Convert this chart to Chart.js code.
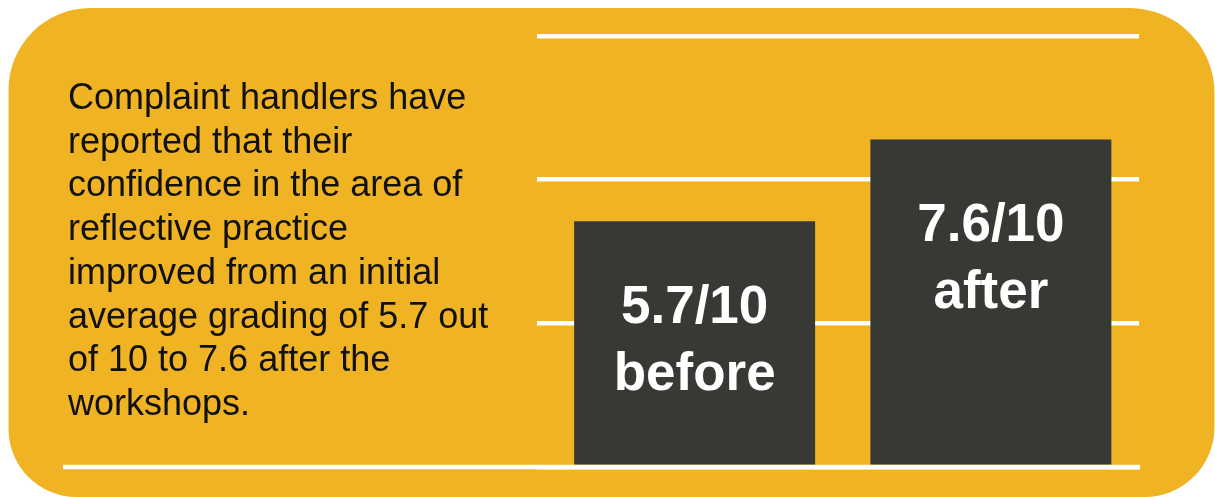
<!DOCTYPE html>
<html>
<head>
<meta charset="utf-8">
<title>Reflective practice confidence</title>
<script src="https://cdn.jsdelivr.net/npm/chart.js@4"></script>
<style>
  html, body { margin: 0; padding: 0; background: #ffffff; }
  #wrap { position: relative; width: 1215px; height: 497px; overflow: hidden; }
  #c { position: absolute; left: 0; top: 0; }
  #note {
    position: absolute; left: 68px; top: 75px; margin: 0;
    font-family: "Liberation Sans", Arial, sans-serif;
    font-size: 36px; line-height: 43.7px; color: #111111;
    white-space: nowrap;
  }
</style>
</head>
<body>
<div id="wrap">
  <canvas id="c" width="1215" height="497"></canvas>
  <p id="note"></p>
</div>
<script>
// Average self-rated confidence, graded out of 10
const categories = ['before', 'after'];
const scores = [5.7, 7.6];
const scoreMax = 10;
const gridTicks = [0, 10 / 3, 20 / 3, 10];
const summaryLines = [
  'Complaint handlers have',
  'reported that their',
  'confidence in the area of',
  'reflective practice',
  'improved from an initial',
  'average grading of 5.7 out',
  'of 10 to 7.6 after the',
  'workshops.'
];

const GOLD = '#F0B324';
const BAR = '#363934';
const LINE = '#FFFFFF';

// summary paragraph, one row per line
const note = document.getElementById('note');
summaryLines.forEach((t, i) => {
  if (i) note.appendChild(document.createElement('br'));
  note.appendChild(document.createTextNode(t));
});

// rounded gold panel behind everything
const panelPlugin = {
  id: 'panel',
  beforeDraw(chart) {
    const ctx = chart.ctx;
    ctx.save();
    ctx.fillStyle = '#ffffff';
    ctx.fillRect(0, 0, chart.width, chart.height);
    ctx.fillStyle = GOLD;
    ctx.beginPath();
    ctx.roundRect(8.5, 8, 1206, 489, [82, 85, 70, 68]);
    ctx.fill();
    ctx.restore();
  }
};

// long base rule plus the two-line value captions inside each bar
const overlayPlugin = {
  id: 'overlay',
  afterDatasetsDraw(chart) {
    const ctx = chart.ctx;
    const y0 = chart.scales.y.getPixelForValue(0);
    ctx.save();
    ctx.strokeStyle = LINE;
    ctx.lineWidth = 4.5;
    ctx.beginPath();
    ctx.moveTo(63, y0);
    ctx.lineTo(chart.chartArea.right + 1, y0);
    ctx.stroke();

    ctx.fillStyle = '#ffffff';
    ctx.font = 'bold 53px "Liberation Sans", Arial, sans-serif';
    ctx.textAlign = 'center';
    ctx.textBaseline = 'alphabetic';
    const meta = chart.getDatasetMeta(0);
    meta.data.forEach((bar, i) => {
      const first = bar.y + 102;
      ctx.fillText(scores[i] + '/' + scoreMax, bar.x, first);
      ctx.fillText(categories[i], bar.x, first + 66.5);
    });
    ctx.restore();
  }
};

new Chart(document.getElementById('c'), {
  type: 'bar',
  data: {
    labels: categories,
    datasets: [{
      data: scores,
      backgroundColor: BAR,
      borderWidth: 0,
      barPercentage: 1,
      categoryPercentage: 0.8135
    }]
  },
  options: {
    responsive: false,
    devicePixelRatio: 1,
    animation: false,
    layout: { padding: { left: 537, right: 76, top: 36, bottom: 30 } },
    plugins: { legend: { display: false }, tooltip: { enabled: false } },
    scales: {
      x: { display: false, offset: true },
      y: {
        min: 0,
        max: scoreMax,
        afterBuildTicks(scale) { scale.ticks = gridTicks.map(v => ({ value: v })); },
        ticks: { display: false },
        grid: { color: LINE, lineWidth: 4.5, drawTicks: true, tickLength: 9.5 },
        border: { display: false }
      }
    }
  },
  plugins: [panelPlugin, overlayPlugin]
});
</script>
</body>
</html>
